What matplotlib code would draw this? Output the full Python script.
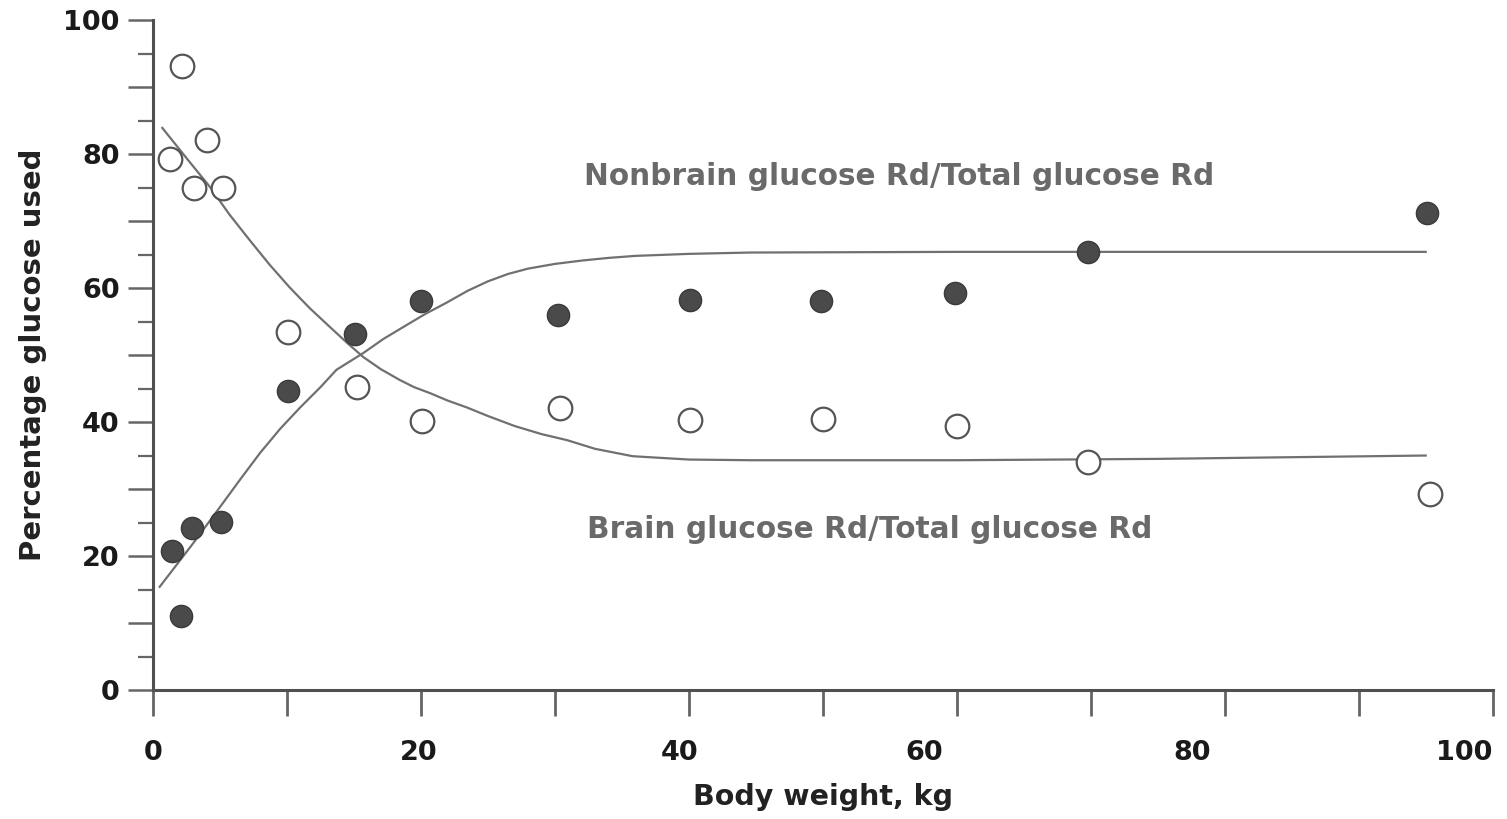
import matplotlib
matplotlib.use("Agg")
import matplotlib.pyplot as plt
from matplotlib.ticker import MultipleLocator, FixedLocator, NullFormatter

# Data
brain_x = [1.3, 2.2, 3.1, 4.0, 5.2, 10.1, 15.2, 20.1, 30.4, 40.1, 50.0, 60.0, 69.8, 95.3]
brain_y = [79.3, 93.1, 74.9, 82.1, 74.9, 53.4, 45.2, 40.1, 42.1, 40.3, 40.4, 39.4, 34.0, 29.3]

nonbrain_x = [1.4, 2.1, 2.9, 5.1, 10.1, 15.1, 20.0, 30.2, 40.1, 49.9, 59.9, 69.8, 95.1]
nonbrain_y = [20.7, 11.0, 24.2, 25.1, 44.6, 53.1, 58.1, 56.0, 58.2, 58.1, 59.3, 65.4, 71.2]

# Fitted curves
nb_curve_x = [0.5, 2.0, 3.0, 5.0, 6.5, 8.0, 9.5, 11.0, 12.5, 13.7, 15.7, 17.2, 18.7, 20.3, 21.9,
              23.5, 25.0, 26.5, 28.0, 30.0, 32.0, 34.0, 36.0, 40.0, 44.6, 60.0, 80.0, 95.0]
nb_curve_y = [15.4, 19.3, 21.9, 27.3, 31.4, 35.4, 39.0, 42.2, 45.2, 47.8, 50.3, 52.4, 54.2, 56.1, 57.8,
              59.6, 61.0, 62.1, 62.9, 63.6, 64.1, 64.5, 64.8, 65.1, 65.3, 65.4, 65.4, 65.4]
br_curve_x = [0.7, 2.5, 4.25, 5.7, 7.2, 8.7, 10.2, 11.7, 13.2, 14.5, 15.7, 17.0, 18.4, 19.5, 20.7,
              22.0, 23.4, 25.0, 27.0, 29.0, 30.9, 33.0, 35.8, 40.0, 44.6, 60.0, 75.0, 95.0]
br_curve_y = [83.9, 79.4, 75.1, 71.0, 67.2, 63.5, 60.1, 57.0, 54.2, 51.8, 49.7, 47.9, 46.3, 45.2, 44.3,
              43.2, 42.2, 40.9, 39.4, 38.2, 37.3, 36.0, 34.9, 34.4, 34.3, 34.3, 34.5, 35.0]

x_ticks = [0, 10, 20, 30, 40, 50, 60, 70, 80, 90, 100]
x_label_text = ["0", "20", "40", "60", "80", "100"]
x_label_pos = [0, 19.8, 39.3, 57.6, 77.6, 97.9]
y_ticks = [0, 10, 20, 30, 40, 50, 60, 70, 80, 90, 100]
y_labels = ["0", "", "20", "", "40", "", "60", "", "80", "", "100"]

plt.rcParams['font.family'] = ['DejaVu Sans']

fig = plt.figure(figsize=(15.07, 8.19), dpi=100)
ax = fig.add_axes([0.1015, 0.1575, 0.889, 0.818])

line_col = "#707070"
ax.plot(nb_curve_x, nb_curve_y, color=line_col, lw=1.6, zorder=2)
ax.plot(br_curve_x, br_curve_y, color=line_col, lw=1.6, zorder=2)

ax.plot(brain_x, brain_y, linestyle="none", marker="o", markersize=17,
        markerfacecolor="white", markeredgecolor="#555555", markeredgewidth=1.6, zorder=3)
ax.plot(nonbrain_x, nonbrain_y, linestyle="none", marker="o", markersize=16,
        markerfacecolor="#4a4a4a", markeredgecolor="#3a3a3a", markeredgewidth=1.0, zorder=3)

ax.text(32.2, 76.6, "Nonbrain glucose Rd/Total glucose Rd", fontsize=21.3, fontweight="bold",
        color="#6a6a6a", va="center", ha="left")
ax.text(32.4, 23.9, "Brain glucose Rd/Total glucose Rd", fontsize=21.3, fontweight="bold",
        color="#6a6a6a", va="center", ha="left")

ax.set_xlim(0, 100)
ax.set_ylim(0, 100)

ax.spines["top"].set_visible(False)
ax.spines["right"].set_visible(False)
for s in ("left", "bottom"):
    ax.spines[s].set_linewidth(2.2)
    ax.spines[s].set_color("#505050")

# x: unlabeled major ticks, labels carried by invisible minor ticks
ax.xaxis.remove_overlapping_locs = False
ax.xaxis.set_major_locator(FixedLocator(x_ticks))
ax.xaxis.set_major_formatter(NullFormatter())
ax.xaxis.set_minor_locator(FixedLocator(x_label_pos))
ax.set_xticklabels(x_label_text, minor=True)

ax.yaxis.set_major_locator(FixedLocator(y_ticks))
ax.set_yticklabels(y_labels)
ax.yaxis.set_minor_locator(MultipleLocator(5))

ax.tick_params(axis="x", which="major", direction="out", length=19, width=2.0,
               color="#666666")
ax.tick_params(axis="x", which="minor", direction="out", length=0, width=0,
               pad=36, labelsize=19.5, labelcolor="#1a1a1a")
ax.tick_params(axis="y", which="major", direction="out", length=18, width=1.8,
               color="#666666", pad=6, labelsize=19.5, labelcolor="#1a1a1a")
ax.tick_params(axis="y", which="minor", direction="out", length=11, width=1.6,
               color="#666666")
for lab in ax.get_xticklabels(minor=True) + ax.get_yticklabels():
    lab.set_fontweight("bold")

ax.set_xlabel("Body weight, kg", fontsize=20.5, fontweight="bold", color="#222222", labelpad=12)
ax.set_ylabel("Percentage glucose used", fontsize=21, fontweight="bold", color="#222222", labelpad=12)

fig.savefig("out.png", dpi=100, facecolor="white")
